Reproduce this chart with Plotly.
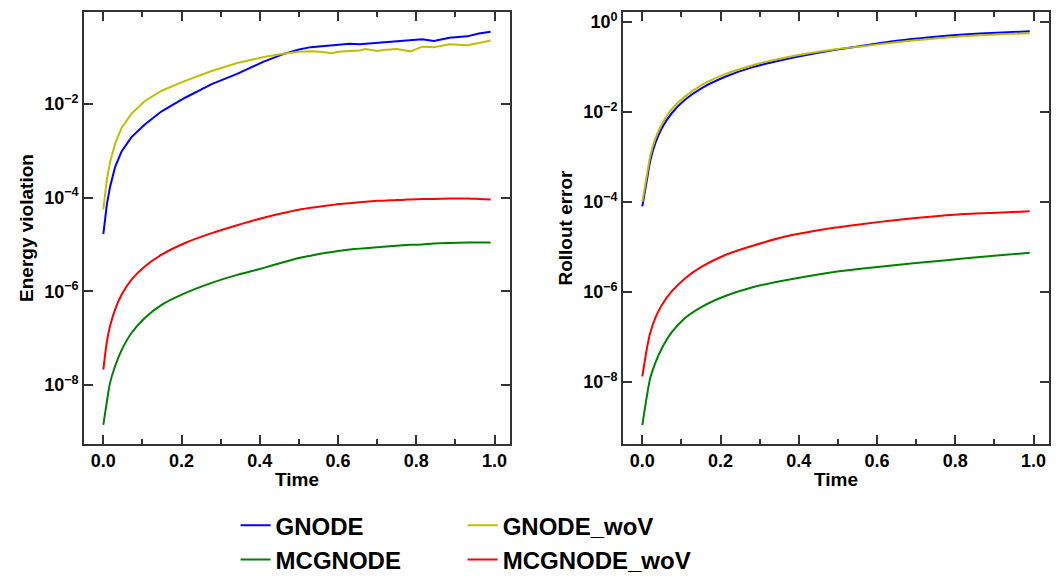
import plotly.graph_objects as go
from plotly.subplots import make_subplots

# ---------------- data (log10 of the plotted values) ----------------
t_left = [0, 0.009, 0.017, 0.03, 0.047, 0.072, 0.106, 0.149, 0.209, 0.277, 0.342, 0.375, 0.41,
          0.46, 0.5, 0.53, 0.555, 0.585, 0.6, 0.63, 0.655, 0.67, 0.7, 0.715, 0.75, 0.765,
          0.785, 0.815, 0.845, 0.885, 0.93, 0.96, 0.99]
energy_gnode = [-4.78, -4.15, -3.78, -3.35, -3.01, -2.71, -2.44, -2.16, -1.87, -1.58, -1.36, -1.23, -1.10,
                -0.94, -0.84, -0.79, -0.77, -0.74, -0.73, -0.72, -0.73, -0.72, -0.70, -0.69, -0.67, -0.65,
                -0.64, -0.62, -0.66, -0.59, -0.56, -0.50, -0.46]
energy_gnode_wov = [-4.25, -3.62, -3.25, -2.85, -2.51, -2.21, -1.94, -1.72, -1.51, -1.30, -1.13, -1.06, -1.00,
                    -0.93, -0.89, -0.88, -0.89, -0.92, -0.89, -0.87, -0.86, -0.83, -0.87, -0.85, -0.83, -0.85,
                    -0.88, -0.78, -0.79, -0.73, -0.75, -0.70, -0.65]
energy_mcgnode = [-8.85, -8.36, -7.96, -7.60, -7.25, -6.89, -6.57, -6.29, -6.04, -5.82, -5.65, -5.58, -5.50,
                  -5.38, -5.29, -5.24, -5.20, -5.16, -5.14, -5.11, -5.09, -5.08, -5.06, -5.05, -5.03, -5.02,
                  -5.01, -5.00, -4.98, -4.97, -4.96, -4.96, -4.96]
energy_mcgnode_wov = [-7.67, -7.08, -6.75, -6.39, -6.07, -5.75, -5.47, -5.22, -4.97, -4.76, -4.59, -4.51, -4.43,
                      -4.33, -4.26, -4.22, -4.19, -4.16, -4.14, -4.12, -4.10, -4.09, -4.07, -4.07, -4.05, -4.05,
                      -4.04, -4.03, -4.03, -4.02, -4.02, -4.03, -4.04]

t_right = [0, 0.011, 0.02, 0.033, 0.05, 0.075, 0.109, 0.152, 0.212, 0.28, 0.366,
           0.494, 0.564, 0.65, 0.735, 0.82, 0.906, 0.99]
rollout_gnode = [-4.10, -3.55, -3.10, -2.70, -2.36, -2.03, -1.73, -1.47, -1.22, -1.01, -0.83,
                 -0.62, -0.53, -0.42, -0.34, -0.28, -0.24, -0.21]
rollout_gnode_wov = [-4.00, -3.44, -2.99, -2.60, -2.27, -1.94, -1.66, -1.40, -1.16, -0.97, -0.79,
                     -0.61, -0.54, -0.45, -0.38, -0.32, -0.28, -0.25]
rollout_mcgnode = [-8.96, -8.35, -7.92, -7.58, -7.25, -6.90, -6.58, -6.33, -6.09, -5.90, -5.74,
                   -5.55, -5.48, -5.40, -5.33, -5.26, -5.19, -5.13]
rollout_mcgnode_wov = [-7.88, -7.29, -6.92, -6.58, -6.29, -5.99, -5.70, -5.44, -5.18, -4.98, -4.77,
                       -4.57, -4.49, -4.40, -4.33, -4.27, -4.24, -4.21]

names = ['GNODE', 'MCGNODE', 'GNODE_woV', 'MCGNODE_woV']
colors = ['#0000ff', '#008000', '#bfbf00', '#ff0000']
legend_of = ['legend', 'legend', 'legend2', 'legend2']
shapes_left = ['linear', 'spline', 'linear', 'spline']

x_ticks = [0.0, 0.2, 0.4, 0.6, 0.8, 1.0]
x_ticktext = ['0.0', '0.2', '0.4', '0.6', '0.8', '1.0']
y_ticks_left = [-8, -6, -4, -2]
y_ticks_right = [-8, -6, -4, -2, 0]

FONT = 'Liberation Sans'
AXIS_COLOR = '#333333'

fig = make_subplots(rows=1, cols=2)

left = [energy_gnode, energy_mcgnode, energy_gnode_wov, energy_mcgnode_wov]
right = [rollout_gnode, rollout_mcgnode, rollout_gnode_wov, rollout_mcgnode_wov]
for i in range(4):
    fig.add_trace(go.Scatter(x=t_left, y=[10 ** v for v in left[i]], mode='lines', name=names[i],
                             line=dict(color=colors[i], width=2, shape=shapes_left[i], smoothing=0.6),
                             legend=legend_of[i]), row=1, col=1)
    fig.add_trace(go.Scatter(x=t_right, y=[10 ** v for v in right[i]], mode='lines', name=names[i],
                             line=dict(color=colors[i], width=2, shape='spline', smoothing=0.6),
                             showlegend=False), row=1, col=2)


def ylab(e):
    return '10<sup>' + str(e).replace('-', '\u2212') + '</sup>'


title_font = dict(family=FONT, size=19, color='black', weight='bold')
axis_common = dict(showline=True, linecolor=AXIS_COLOR, linewidth=1.5, mirror='allticks',
                   ticks='inside', tickcolor=AXIS_COLOR, ticklen=9, tickwidth=2,
                   showgrid=False, zeroline=False, automargin=False,
                   tickfont=dict(family=FONT, size=18, color='black', weight='bold'))

fig.update_xaxes(**axis_common, range=[-0.0495, 1.0395], tickvals=x_ticks, ticktext=x_ticktext,
                 minor=dict(dtick=0.1, tick0=0, ticks='inside', ticklen=5, tickwidth=2,
                            tickcolor=AXIS_COLOR, showgrid=False),
                 title=dict(text='Time', font=title_font, standoff=2))
# the page body adds an 8 px offset, the domains take it into account
fig.update_xaxes(domain=[0.0716, 0.4731], row=1, col=1)
fig.update_xaxes(domain=[0.5796, 0.9812], row=1, col=2)

fig.update_yaxes(**axis_common, type='log', domain=[0.2572, 0.9932])
fig.update_yaxes(range=[-9.26, -0.04], tickvals=[10 ** e for e in y_ticks_left],
                 ticktext=[ylab(e) for e in y_ticks_left],
                 title=dict(text='Energy violation', font=title_font, standoff=6), row=1, col=1)
fig.update_yaxes(range=[-9.38, 0.22], tickvals=[10 ** e for e in y_ticks_right],
                 ticktext=[ylab(e) for e in y_ticks_right],
                 title=dict(text='Rollout error', font=title_font, standoff=6), row=1, col=2)

legend_font = dict(family=FONT, size=24, color='black', weight='bold')
fig.update_layout(
    width=1061, height=587,
    margin=dict(l=0, r=0, t=0, b=0),
    plot_bgcolor='white', paper_bgcolor='white',
    legend=dict(x=0.2145, y=0.1566, xanchor='left', yanchor='top', font=legend_font,
                bgcolor='rgba(0,0,0,0)', tracegroupgap=0),
    legend2=dict(x=0.4285, y=0.1566, xanchor='left', yanchor='top', font=legend_font,
                 bgcolor='rgba(0,0,0,0)', tracegroupgap=0),
)

fig.write_html("out.html")
